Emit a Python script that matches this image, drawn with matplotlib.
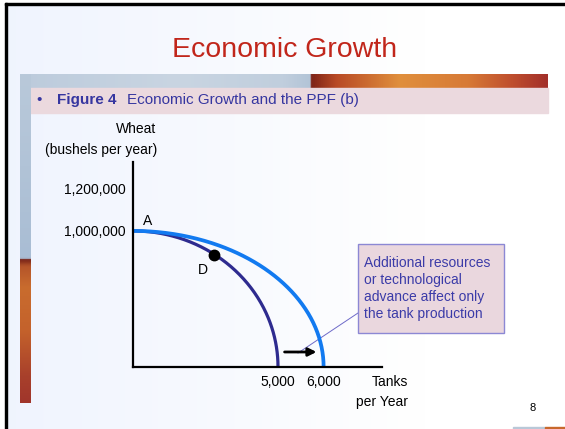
import numpy as np
import matplotlib.pyplot as plt
from matplotlib.patches import Rectangle
from matplotlib.colors import LinearSegmentedColormap

plt.rcParams['font.family'] = ['Liberation Sans', 'DejaVu Sans']

title = 'Economic Growth'
fig_label = 'Figure 4'
fig_caption = 'Economic Growth and the PPF (b)'

# axis ticks (schematic axes of the textbook figure)
wheat_ticks = [1_000_000, 1_200_000]
wheat_labels = ['1,000,000', '1,200,000']
tank_ticks = [5000, 6000]
tank_labels = ['5,000', '6,000']

# PPF intercepts: (tanks, wheat)
ppf_old = (5000, 1_000_000)
ppf_new = (6000, 1_000_000)
point_a = (0, 1_000_000)
point_d = (3400, 880_000)
shift_from, shift_to, shift_wheat = 5150, 5850, 230_000

note = 'Additional resources\nor technological\nadvance affect only\nthe tank production'

W, H = 565, 429
fig = plt.figure(figsize=(W / 100, H / 100), dpi=100)

# ---- slide background, pixel coordinates ----
bg = fig.add_axes([0, 0, 1, 1])
bg.set_xlim(0, W)
bg.set_ylim(H, 0)
bg.axis('off')

g = np.clip(np.linspace(0, 1, W) / 0.75, 0, 1)
c0 = np.array([0.94, 0.957, 0.996])
c1 = np.array([1.0, 1.0, 1.0])
img = c0[None, :] * (1 - g[:, None]) + c1[None, :] * g[:, None]
bg.imshow(img[None, :, :], extent=[7, W, H, 5], aspect='auto', zorder=0)

# black frame (top and left)
bg.add_patch(Rectangle((5, 3), W - 5, 2.4, color='black', zorder=2))
bg.add_patch(Rectangle((5, 3), 2.2, H - 3, color='black', zorder=2))

# header band
band = LinearSegmentedColormap.from_list('band', [
    (0, '#bccbdc'), (0.3, '#c9d5e2'), (0.5, '#c0cedd'), (0.55, '#b2c4d7'),
    (0.553, '#7e2418'), (0.6, '#b84a26'), (0.72, '#e08f3c'), (0.85, '#d77a36'),
    (0.93, '#c0502e'), (1, '#a3302a')])
bg.imshow(np.linspace(0, 1, 256)[None, :], cmap=band, extent=[20, 548, 88, 74],
          aspect='auto', zorder=1)
bg.add_patch(Rectangle((30, 88), 518, 25, color='#ebd9de', zorder=1))

# left decorative strip
strip = LinearSegmentedColormap.from_list('strip', [
    (0, '#b9c9da'), (0.56, '#a9bdd4'), (0.565, '#7a2418'), (0.585, '#b5552a'),
    (0.65, '#c96c2e'), (0.78, '#c4622c'), (0.92, '#a8402b'), (1, '#a0352b')])
bg.imshow(np.linspace(0, 1, 256)[:, None], cmap=strip, extent=[20, 30.5, 403, 74],
          aspect='auto', zorder=1)

# bottom right strip
bg.add_patch(Rectangle((513, 426.5), 32, 3, color='#b9c8d8', zorder=1))
bg.add_patch(Rectangle((545, 426.5), 20, 3, color='#c8682c', zorder=1))

# slide texts
bg.text(285, 50, title, ha='center', va='center', fontsize=20.5, color='#c1261b')
navy = '#3636a0'
bg.text(39, 100, '\u2022', ha='center', va='center', fontsize=11, color=navy)
bg.text(57, 100, fig_label, ha='left', va='center', fontsize=11,
        fontweight='bold', color=navy)
bg.text(127, 100, fig_caption, ha='left', va='center', fontsize=11, color=navy)

bg.text(156, 129, 'Wheat', ha='right', va='center', fontsize=10)
bg.text(157, 150, '(bushels per year)', ha='right', va='center', fontsize=10)
bg.text(408, 382, 'Tanks', ha='right', va='center', fontsize=10)
bg.text(408, 402, 'per Year', ha='right', va='center', fontsize=10)
bg.text(533, 408, '8', ha='center', va='center', fontsize=8)

# note box with leader line
bg.plot([298, 358], [353, 313], color='#6e6ac8', lw=0.7, zorder=3)
bg.add_patch(Rectangle((358, 244), 146, 89, fc='#ead7de', ec='#8c88d4',
                       lw=1, zorder=3))
bg.text(364, 288.5, note, ha='left', va='center', fontsize=10,
        color='#3b3ba8', linespacing=1.25, zorder=4)

# ---- chart ----
ax = fig.add_axes([133 / W, 1 - 367 / H, (382 - 133) / W, (367 - 162) / H])
ax.patch.set_alpha(0)
fwd = lambda v: np.sign(v) * np.abs(v) ** 1.5
inv = lambda v: np.sign(v) * np.abs(v) ** (1 / 1.5)
ax.set_xscale('function', functions=(fwd, inv))
ax.set_yscale('function', functions=(fwd, inv))
ax.set_xlim(0, 7170)
ax.set_ylim(0, 1_314_000)

t = np.linspace(0, np.pi / 2, 300)
ax.plot(ppf_old[0] * np.cos(t) ** (2 / 3), ppf_old[1] * np.sin(t) ** (2 / 3),
        color='#2e2b8f', lw=2.3, clip_on=False, solid_capstyle='butt')
ax.plot(ppf_new[0] * np.cos(t) ** (2 / 3), ppf_new[1] * np.sin(t) ** (2 / 3),
        color='#127af0', lw=2.7, clip_on=False, solid_capstyle='butt')
ax.plot(*point_d, 'o', color='black', ms=7.5, clip_on=False)
ax.annotate('A', point_a, xytext=(7, 7), textcoords='offset points',
            fontsize=10, va='center', ha='left')
ax.annotate('D', point_d, xytext=(-8, -11), textcoords='offset points',
            fontsize=10, va='center', ha='center')
ax.annotate('', xy=(shift_to, shift_wheat), xytext=(shift_from, shift_wheat),
            arrowprops=dict(arrowstyle='-|>', color='black', lw=2,
                            mutation_scale=12, shrinkA=0, shrinkB=0))

for s in ['top', 'right']:
    ax.spines[s].set_visible(False)
for s in ['left', 'bottom']:
    ax.spines[s].set_linewidth(1.6)
    ax.spines[s].set_color('black')
ax.set_xticks(tank_ticks, tank_labels)
ax.set_yticks(wheat_ticks, wheat_labels)
ax.minorticks_off()
ax.tick_params(axis='both', length=0, labelsize=10)
ax.tick_params(axis='x', pad=6)
ax.tick_params(axis='y', pad=5)

fig.savefig('out.png', dpi=100)
